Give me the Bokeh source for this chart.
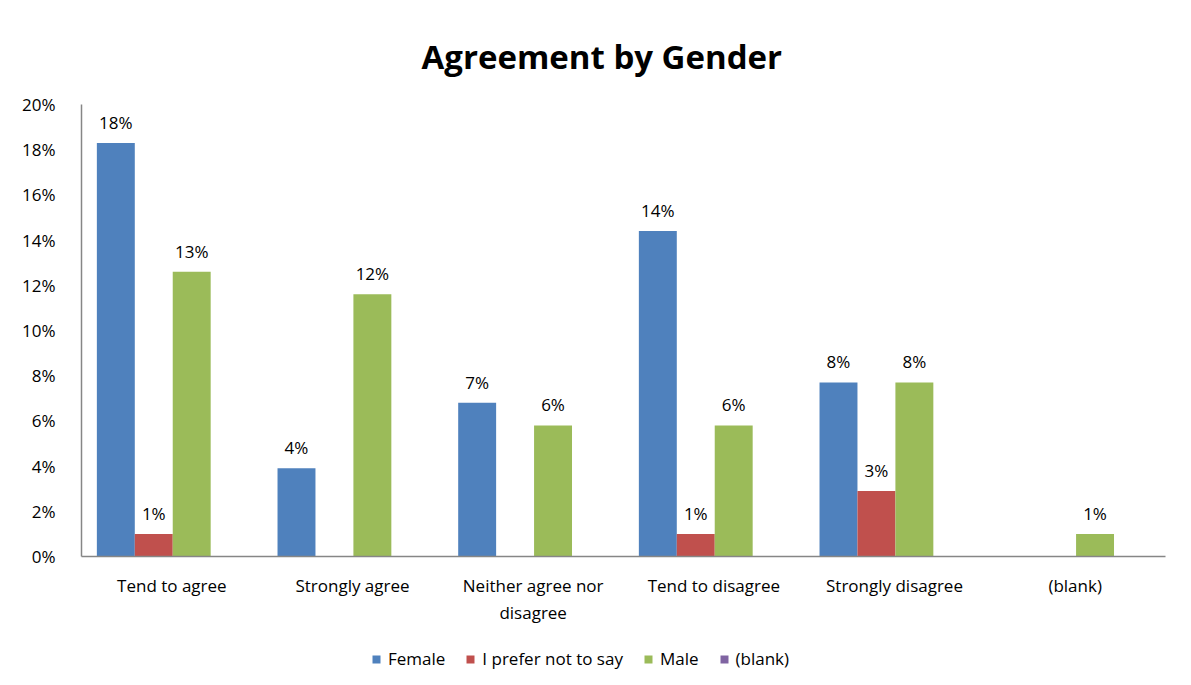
from bokeh.plotting import figure
from bokeh.layouts import column
from bokeh.models import (ColumnDataSource, FixedTicker, NumeralTickFormatter, Legend,
                          LegendItem, Range1d)
from bokeh.transform import dodge
from bokeh.core.properties import value
from bokeh.embed import file_html
from bokeh.resources import INLINE

# ---- data ----
categories = ["Tend to agree", "Strongly agree", "Neither agree nor disagree",
              "Tend to disagree", "Strongly disagree", "(blank)"]
tick_labels = ["Tend to agree", "Strongly agree", "Neither agree nor\ndisagree",
               "Tend to disagree", "Strongly disagree", "(blank)"]
series = ["Female", "I prefer not to say", "Male", "(blank)"]
female = [0.183, 0.039, 0.068, 0.144, 0.077, 0.0]
prefer = [0.010, 0.0, 0.0, 0.010, 0.029, 0.0]
male = [0.126, 0.116, 0.058, 0.058, 0.077, 0.010]
blank = [0.0, 0.0, 0.0, 0.0, 0.0, 0.0]
y_ticks = [0.0, 0.02, 0.04, 0.06, 0.08, 0.10, 0.12, 0.14, 0.16, 0.18, 0.20]

colors = ["#4F81BD", "#C0504D", "#9BBB59", "#8064A2"]
offsets = [-0.31, -0.10, 0.11, 0.32]
FONT = "Open Sans"

pos = [i + 0.5 for i in range(len(categories))]

p = figure(width=1191, height=640,
           x_range=Range1d(0, len(categories)), y_range=Range1d(0, 0.2),
           output_backend="svg", toolbar_location=None,
           min_border_left=81, min_border_right=26, min_border_top=104, min_border_bottom=84)
p.outline_line_color = None
p.xgrid.grid_line_color = None
p.ygrid.grid_line_color = None

p.title.text = "Agreement by Gender"
p.title.align = "left"
p.title.text_font = FONT
p.title.text_font_style = "bold"
p.title.text_font_size = "33px"
p.title.text_color = "#000000"
p.title.standoff = 51
p.title.offset = 340

for name, vals, col, off in zip(series, [female, prefer, male, blank], colors, offsets):
    src = ColumnDataSource(dict(x=pos, y=vals))
    p.vbar(x=dodge("x", off, range=p.x_range), top="y", width=0.21, source=src,
           fill_color=col, line_color=None)
    lx = [pos[i] for i, v in enumerate(vals) if v > 0]
    ly = [v for v in vals if v > 0]
    lt = ["{:.0f}%".format(v * 100) for v in vals if v > 0]
    if lx:
        lsrc = ColumnDataSource(dict(x=lx, y=ly, t=lt))
        p.text(x=dodge("x", off, range=p.x_range), y="y", text="t", source=lsrc,
               text_align="center", text_baseline="bottom", y_offset=-9,
               text_font=value(FONT), text_font_size="17px", text_color="#000000")

# axes
for ax in (p.xaxis[0], p.yaxis[0]):
    ax.axis_line_color = "#868686"
    ax.axis_line_width = 1.5
    ax.major_tick_line_color = None
    ax.minor_tick_line_color = None
    ax.major_label_text_font = FONT
    ax.major_label_text_font_size = "17px"
    ax.major_label_text_color = "#000000"
p.xaxis.major_label_standoff = 11
p.yaxis.major_label_standoff = 20

p.xaxis.ticker = FixedTicker(ticks=pos)
p.xaxis.major_label_overrides = {x: lab for x, lab in zip(pos, tick_labels)}
p.yaxis.ticker = FixedTicker(ticks=y_ticks)
p.yaxis.formatter = NumeralTickFormatter(format="0%")

# legend strip below the chart (swatch renderers have zero height, so draw nothing)
lg = figure(width=1191, height=45, output_backend="svg", toolbar_location=None,
            min_border=0, x_range=Range1d(0, 1), y_range=Range1d(0, 1),
            x_axis_location=None, y_axis_location=None)
lg.outline_line_color = None
lg.grid.visible = False
items = []
for name, col in zip(series, colors):
    r = lg.vbar(x=[0.5], top=[0.0], width=0.1, fill_color=col, line_color=None)
    items.append(LegendItem(label=name, renderers=[r]))
legend = Legend(items=items, orientation="horizontal", location=(290, 15),
                glyph_width=10, glyph_height=10, label_standoff=7, spacing=20,
                padding=0, margin=0, border_line_color=None, background_fill_alpha=0,
                label_text_font=FONT, label_text_font_size="17px",
                label_text_color="#000000")
lg.add_layout(legend)

layout = column(p, lg, spacing=0)
open("out.html", "w").write(file_html(layout, INLINE))
